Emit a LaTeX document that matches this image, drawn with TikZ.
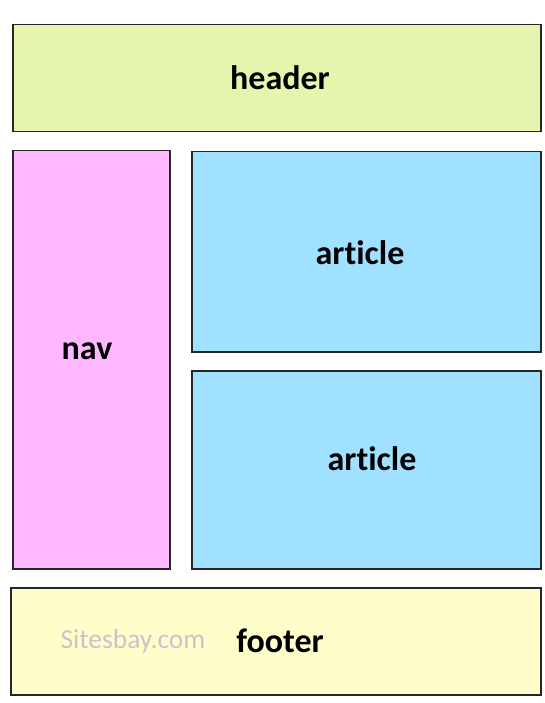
\documentclass[tikz,border=0pt]{standalone}
\usepackage{fontspec}
\setmainfont[Ligatures=NoCommon]{Carlito}
\usetikzlibrary{positioning}
\definecolor{headergreen}{RGB}{229,245,174}
\definecolor{navpink}{RGB}{255,184,255}
\definecolor{articleblue}{RGB}{160,225,255}
\definecolor{footeryellow}{RGB}{255,253,202}
\definecolor{markgray}{RGB}{196,198,204}

\tikzset{
	box/.style={draw=black!85, line width=1.5pt, inner sep=0pt, anchor=north west},
	lbl/.style={font=\bfseries\fontsize{34}{36}\selectfont, text=black},
	mark text/.style={font=\fontsize{27.5}{30}\selectfont, text=markgray}
}

\begin{document}
\begin{tikzpicture}[x=1pt,y=-1pt]
		
		\useasboundingbox (0,0) rectangle (544,703);
		
		% boxes
		\node[box, fill=headergreen, minimum width=528pt, minimum height=107pt] (header) at (12,24) {};
		\node[box, fill=navpink, minimum width=157pt, minimum height=418pt] (nav) at (12,150) {};
		\node[box, fill=articleblue, minimum width=349pt, minimum height=200pt] (article1) at (191,151) {};
		\node[box, fill=articleblue, minimum width=349pt, minimum height=198pt] (article2) at (191,370) {};
		\node[box, fill=footeryellow, minimum width=530pt, minimum height=107pt] (footer) at (10,587) {};
		
		% labels
		\node[lbl] (headertext) at (280,78) {header};
		\node[lbl] (navtext) at (87,351) {nav};
		\node[lbl] (article1text) at (360,253) {article};
		\node[lbl] (article2text) at (372,459) {article};
		\node[lbl] (footertext) at (280,641) {footer};
		\node[mark text] (sitename) at (133,641) {Sitesbay.com};
		
	\end{tikzpicture}
\end{document}
